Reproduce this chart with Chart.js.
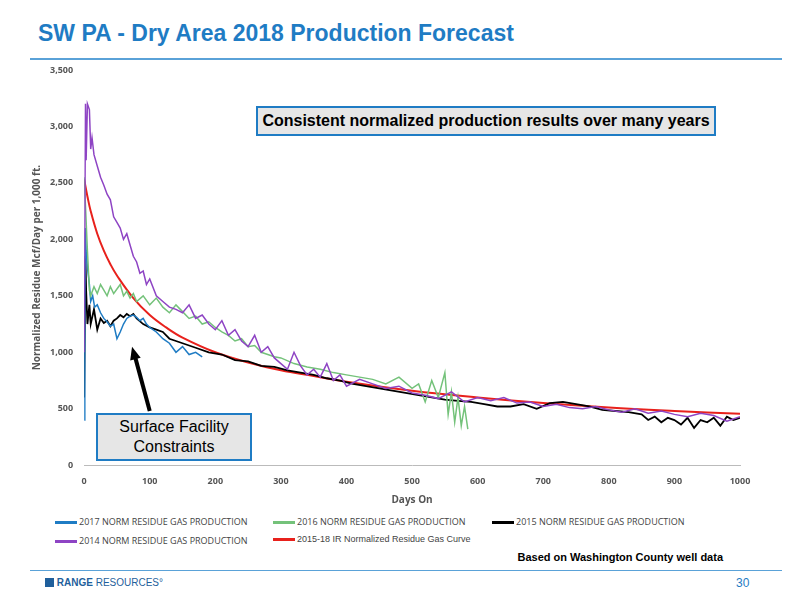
<!DOCTYPE html>
<html><head><meta charset="utf-8">
<script src="https://cdn.jsdelivr.net/npm/chart.js@4"></script>
<style>
body{margin:0;width:800px;height:600px;background:#fff;font-family:"Liberation Sans",Arial,sans-serif;position:relative;overflow:hidden}
#title{position:absolute;left:38px;top:20px;font-size:23px;font-weight:bold;color:#1f7cc4}
.hr{position:absolute;left:30px;width:752px;height:2px;background:#5aa2d8}
#wrap{position:absolute;left:0;top:60px;width:760px;height:450px}
.box{position:absolute;background:#e6e6e6;border:2px solid #1f7cc4;text-align:center;color:#000}
#leg{position:absolute;left:55px;top:515px;font-family:"Open Sans";font-size:9px;color:#444}
.li{position:absolute;white-space:nowrap}
.li span{display:inline-block;width:22px;height:3px;vertical-align:middle;margin-right:2px}
</style></head><body>
<div id="title">SW PA - Dry Area 2018 Production Forecast</div>
<div class="hr" style="top:58px"></div>
<div id="wrap"><canvas id="c"></canvas></div>
<div class="box" style="left:256px;top:106px;width:456px;height:26px;line-height:26px;font-size:16px;font-weight:bold">Consistent normalized production results over many years</div>
<div class="box" style="left:96px;top:413px;width:156px;height:48px;font-size:16px;line-height:20px;padding-top:2px;box-sizing:border-box">Surface Facility<br>Constraints</div>
<div id="leg"></div>
<div style="position:absolute;right:77px;top:551px;font-size:11px;font-weight:bold">Based on Washington County well data</div>
<div class="hr" style="top:570px;height:1px"></div>
<div style="position:absolute;left:45px;top:577px;font-size:10px;font-weight:bold;color:#1f5f9c"><span style="display:inline-block;width:9px;height:9px;background:#1f5f9c;vertical-align:-1px"></span> RANGE<span style="font-weight:normal"> RESOURCES°</span></div>
<div style="position:absolute;left:736px;top:576px;font-size:12px;color:#1f7cc4">30</div>
<script>
const days2017=[0,1,2,3,5,8,10,13,16,20,25,30,35,40,45,50,55,60,65,70,75,80,85,90,95,100,110,120,130,140,150,160,170,180];
const vals2017=[400,1500,2100,1900,1750,1600,1450,1500,1400,1420,1350,1300,1270,1230,1250,1120,1180,1250,1300,1320,1330,1310,1280,1300,1250,1220,1180,1120,1080,1000,1050,980,1000,960];
const days2016=[0,2,5,8,10,15,20,25,30,35,40,45,50,55,60,65,70,75,80,90,100,110,120,130,140,150,160,170,180,190,200,210,220,230,240,250,260,270,280,290,300,320,340,360,380,400,420,440,460,480,500,510,520,530,540,550,555,560,565,570,575,580,585];
const vals2016=[2550,2300,1900,1550,1500,1580,1520,1600,1550,1500,1580,1520,1560,1600,1500,1540,1480,1520,1450,1500,1420,1480,1400,1350,1420,1360,1300,1320,1250,1270,1220,1180,1150,1100,1120,1050,1060,1000,980,960,950,900,870,850,820,800,780,760,720,780,680,720,560,750,600,820,450,650,380,600,350,520,320];
const days2015=[0,2,3,5,8,10,15,20,25,30,35,40,45,50,55,60,65,70,75,80,90,100,110,120,130,140,150,170,190,210,230,250,270,290,310,330,350,370,390,410,430,450,470,490,510,530,550,570,590,610,630,650,670,690,710,730,750,770,790,810,830,850,860,870,880,890,900,910,920,930,940,950,960,970,980,990,1000];
const vals2015=[600,1850,1550,1250,1420,1250,1380,1200,1300,1260,1280,1230,1280,1300,1330,1310,1340,1320,1340,1300,1250,1220,1200,1180,1120,1100,1080,1040,1000,980,930,920,880,870,840,820,800,770,750,720,700,680,660,640,620,600,580,570,560,540,520,520,540,500,550,560,540,520,490,480,470,450,400,430,380,420,400,360,420,330,400,380,420,350,430,400,420];
const days2014=[0,2,3,5,8,10,12,15,20,25,30,35,40,45,50,55,60,65,70,75,80,85,90,95,100,110,120,130,140,150,160,170,180,190,200,210,220,230,240,250,260,270,280,290,300,310,320,330,340,350,360,370,380,390,400,420,440,460,480,500,520,540,560,580,600,620,640,660,680,700,720,740,760,780,800,820,840,860,880,900,920,940,960,980,1000];
const vals2014=[1000,3200,2700,3200,3150,2800,2900,2750,2650,2550,2480,2400,2350,2200,2150,2100,2000,2050,1950,1850,1800,1700,1720,1600,1650,1500,1450,1400,1380,1350,1420,1300,1330,1250,1200,1280,1150,1200,1100,1050,1150,1000,1050,950,900,850,1000,880,800,850,780,900,750,800,700,760,720,680,700,640,620,590,650,560,600,570,600,550,560,520,540,510,500,520,490,470,500,460,480,450,430,460,440,390,430];
const daysCurve=[0,5,10,20,30,40,50,75,100,125,150,200,250,300,350,400,500,600,700,800,900,1000];
const valsCurve=[2530,2380,2250,2050,1900,1780,1680,1480,1330,1220,1130,1000,910,840,790,740,660,600,550,510,480,455];
const xTicks=[0,100,200,300,400,500,600,700,800,900,1000];
const series=[
 {label:'2017 NORM RESIDUE GAS PRODUCTION',d:days2017,v:vals2017,c:'#1f7cc4',w:1.5},
 {label:'2016 NORM RESIDUE GAS PRODUCTION',d:days2016,v:vals2016,c:'#74c27a',w:1.5},
 {label:'2015 NORM RESIDUE GAS PRODUCTION',d:days2015,v:vals2015,c:'#000000',w:1.8},
 {label:'2014 NORM RESIDUE GAS PRODUCTION',d:days2014,v:vals2014,c:'#8e44c4',w:1.5},
 {label:'2015-18 IR Normalized Residue Gas Curve',d:daysCurve,v:valsCurve,c:'#e8211c',w:2}];
const order=[3,1,0,2,4];
const ds=order.map(i=>{const s=series[i];return {label:s.label,data:s.d.map((x,j)=>({x,y:s.v[j]})),borderColor:s.c,borderWidth:s.w,pointRadius:0,tension:i==4?0.4:0,fill:false};});
const leg=document.getElementById('leg');
const pos=[[0,0],[218,0],[437,0],[0,19],[218,19]];
series.forEach((s,i)=>{const e=document.createElement('div');e.className='li';e.style.left=pos[i][0]+'px';e.style.top=pos[i][1]+'px';e.innerHTML='<span style="background:'+s.c+'"></span>'+s.label;if(i==4)e.style.fontFamily='Liberation Sans';leg.appendChild(e);});
const arrow={id:'arrow',afterDatasetsDraw(ch){const g=ch.ctx,x=ch.scales.x,y=ch.scales.y;const x0=x.getPixelForValue(100),y0=y.getPixelForValue(480),x1=x.getPixelForValue(73),y1=y.getPixelForValue(1050);g.save();g.strokeStyle='#000';g.fillStyle='#000';g.lineWidth=4;g.beginPath();g.moveTo(x0,y0);g.lineTo(x1+3,y1+10);g.stroke();const a=Math.atan2(y1-y0,x1-x0);g.beginPath();g.moveTo(x1,y1);g.lineTo(x1-14*Math.cos(a-0.4),y1-14*Math.sin(a-0.4));g.lineTo(x1-14*Math.cos(a+0.4),y1-14*Math.sin(a+0.4));g.closePath();g.fill();g.restore();}};
new Chart(document.getElementById('c'),{type:'line',data:{datasets:ds},plugins:[arrow],
options:{responsive:true,maintainAspectRatio:false,animation:false,
layout:{padding:{left:27,top:10,right:20,bottom:0}},
plugins:{legend:{display:false},tooltip:{enabled:false}},
scales:{x:{type:'linear',min:0,max:1000,afterBuildTicks:a=>{a.ticks=xTicks.map(v=>({value:v}));},grid:{display:false},border:{color:'#bbb'},ticks:{font:{family:'Open Sans',size:9,weight:'bold'},color:'#555',callback:v=>String(v)},title:{display:true,text:'Days On',font:{family:'Open Sans',size:10,weight:'bold'},color:'#555'}},
y:{min:0,max:3500,ticks:{stepSize:500,font:{family:'Open Sans',size:9,weight:'bold'},color:'#555',callback:v=>v.toLocaleString('en-US')},grid:{display:false},border:{display:false},title:{display:true,text:'Normalized Residue Mcf/Day per 1,000 ft.',font:{family:'Open Sans',size:10,weight:'bold'},color:'#555'}}}}});
</script></body></html>
